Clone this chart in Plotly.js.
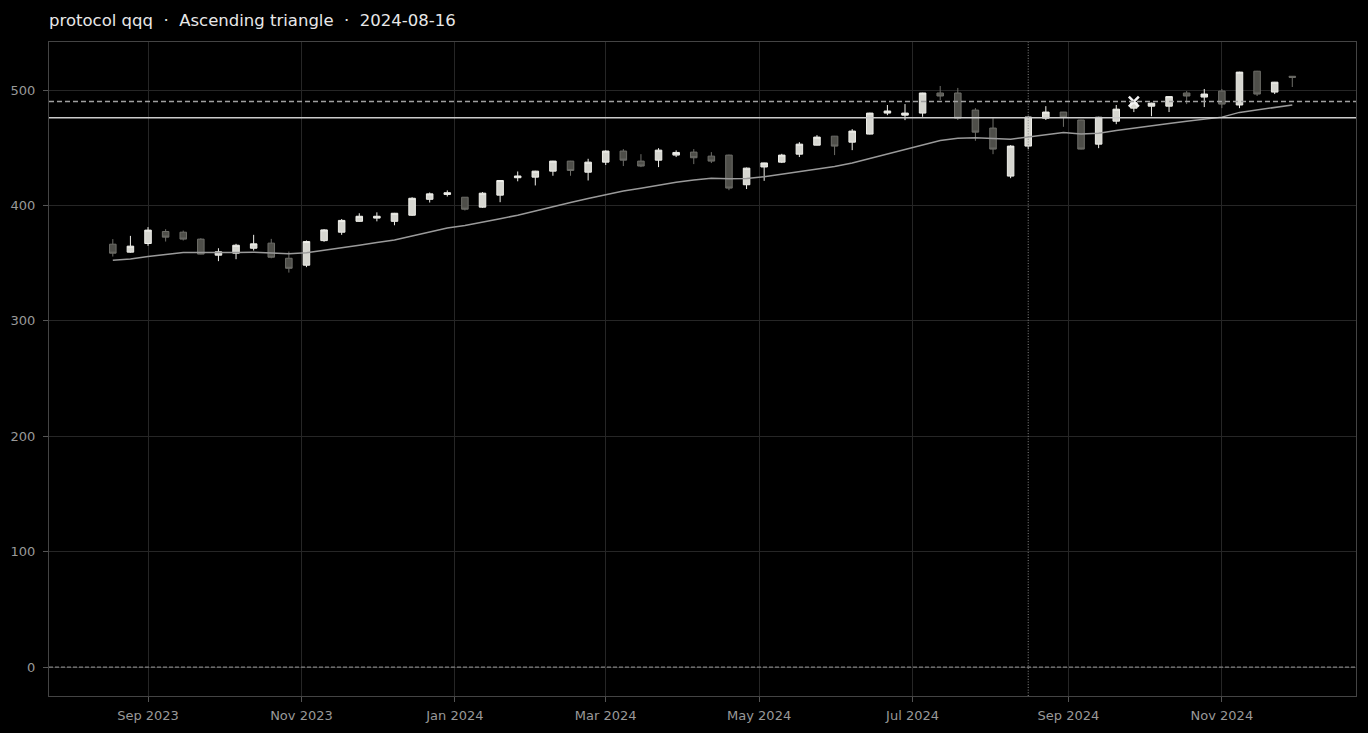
<!DOCTYPE html>
<html>
<head>
<meta charset="utf-8">
<script src="https://cdn.plot.ly/plotly-3.0.1.min.js"></script>
<style>
html,body{margin:0;padding:0;background:#000;}
#chart{width:1368px;height:733px;}
</style>
</head>
<body>
<div id="chart"></div>
<script>
const dates = [
"2023-08-18","2023-08-25","2023-09-01","2023-09-08","2023-09-15","2023-09-22","2023-09-29",
"2023-10-06","2023-10-13","2023-10-20","2023-10-27","2023-11-03","2023-11-10","2023-11-17",
"2023-11-24","2023-12-01","2023-12-08","2023-12-15","2023-12-22","2023-12-29",
"2024-01-05","2024-01-12","2024-01-19","2024-01-26","2024-02-02","2024-02-09","2024-02-16",
"2024-02-23","2024-03-01","2024-03-08","2024-03-15","2024-03-22","2024-03-29","2024-04-05",
"2024-04-12","2024-04-19","2024-04-26","2024-05-03","2024-05-10","2024-05-17","2024-05-24",
"2024-05-31","2024-06-07","2024-06-14","2024-06-21","2024-06-28","2024-07-05","2024-07-12",
"2024-07-19","2024-07-26","2024-08-02","2024-08-09","2024-08-16","2024-08-23","2024-08-30",
"2024-09-06","2024-09-13","2024-09-20","2024-09-27","2024-10-04","2024-10-11","2024-10-18",
"2024-10-25","2024-11-01","2024-11-08","2024-11-15","2024-11-22","2024-11-29"
];
const openVals = [
366.4,359.5,367.0,377.4,376.8,370.8,356.9,358.6,362.9,367.3,354.2,348.2,369.5,376.8,
386.2,389.0,386.2,391.5,405.3,409.5,407.1,398.5,408.9,424.0,424.5,429.7,438.4,428.8,
437.5,447.1,438.4,439.2,443.6,446.2,442.7,443.6,417.9,433.3,437.5,444.4,452.2,460.0,
454.8,461.8,480.0,478.2,480.0,497.4,497.4,482.6,467.0,425.4,451.4,475.6,480.9,474.0,
453.1,473.0,484.3,486.0,486.0,497.4,493.9,499.1,487.0,516.3,498.2,511.9
];
const highVals = [
370.8,373.6,381.2,379.4,378.2,371.6,362.9,366.7,374.5,371.0,360.0,369.6,379.5,388.2,
393.2,394.0,393.5,407.1,411.2,413.0,407.3,411.5,421.8,429.4,430.0,438.6,438.6,440.4,
447.7,448.8,444.4,449.6,447.7,448.8,446.2,444.0,432.8,437.0,444.7,454.8,460.9,460.2,
466.1,480.3,487.0,487.8,497.6,503.5,501.8,484.3,475.6,452.2,477.0,486.0,481.0,474.2,
476.8,487.0,490.0,489.0,494.5,499.1,500.9,500.9,515.8,516.6,507.0,512.0
];
const lowVals = [
355.7,359.0,365.0,368.7,369.6,357.6,351.7,353.4,360.9,354.2,341.8,346.5,368.5,374.5,
385.8,386.2,382.8,391.0,402.5,407.7,395.6,398.0,402.8,420.9,417.3,425.7,425.7,421.6,
435.0,434.1,433.2,433.2,441.9,435.8,436.7,413.2,414.2,421.3,436.7,441.9,452.0,443.6,
447.9,461.5,478.2,473.9,476.8,491.3,474.0,456.0,444.4,423.6,448.8,474.0,468.1,448.5,
449.6,470.4,480.9,477.3,480.9,487.8,485.2,484.3,484.3,494.8,496.5,502.6
];
const closeVals = [
358.6,364.7,378.6,372.5,370.8,357.8,359.8,365.5,366.7,355.1,345.5,368.7,378.8,387.0,
390.6,390.6,393.2,406.2,410.0,411.0,396.7,410.6,421.6,425.5,429.7,438.4,430.3,437.5,
447.1,439.2,434.1,447.9,445.9,441.3,438.4,415.0,432.3,436.8,443.6,453.1,459.2,451.4,
464.4,480.0,481.8,480.0,497.4,494.8,475.6,463.5,448.8,451.4,476.6,480.9,476.4,448.8,
476.4,483.4,489.0,488.6,494.3,494.8,496.5,487.8,515.5,496.5,506.8,511.0
];
const movingAvg = [
352.5,353.6,355.7,357.7,359.2,359.2,359.0,359.2,359.4,358.8,358.2,359.0,361.0,363.2,
365.5,367.8,370.0,373.5,377.3,380.5,382.5,385.2,388.5,391.5,395.3,399.0,402.5,406.0,
409.5,412.5,414.8,417.5,420.0,422.0,423.5,423.0,423.3,424.8,427.0,429.2,431.8,433.8,
436.8,440.8,444.5,448.3,452.5,456.3,458.2,458.6,458.0,457.4,459.3,461.2,463.2,461.8,
462.6,465.0,467.2,469.0,471.0,473.0,475.0,476.5,480.6,482.8,485.0,487.0
];
const resistanceLevel = [476];
const targetLevel = [490];
const baseLevel = [0];
const patternDate = ["2024-08-16"];
const breakoutDate = ["2024-09-27"];
const breakoutValue = [490];

const candles = {
  type: "candlestick",
  x: dates, open: openVals, high: highVals, low: lowVals, close: closeVals,
  increasing: {line: {color: "#efefea", width: 1}, fillcolor: "#d6d6d0"},
  decreasing: {line: {color: "#6e6e69", width: 1}, fillcolor: "#4e4e49"},
  whiskerwidth: 0,
  hoverinfo: "skip",
  showlegend: false
};
const ma = {
  type: "scatter", mode: "lines", x: dates, y: movingAvg,
  line: {color: "#9a9a9a", width: 1.5},
  hoverinfo: "skip", showlegend: false
};
const marker = {
  type: "scatter", mode: "markers", x: breakoutDate, y: breakoutValue,
  marker: {symbol: "x-thin-open", size: 10, color: "#f2f2f2", line: {color: "#f2f2f2", width: 2.5}},
  hoverinfo: "skip", showlegend: false
};

const tickFont = {size: 13, color: "#999", family: "DejaVu Sans, sans-serif"};
const layout = {
  width: 1368, height: 733,
  paper_bgcolor: "#000", plot_bgcolor: "#000",
  margin: {l: 49, r: 12, t: 42, b: 37, pad: 0},
  font: {family: "DejaVu Sans, sans-serif", color: "#999"},
  title: {
    text: "protocol qqq \u00a0·\u00a0 Ascending triangle \u00a0·\u00a0 2024-08-16",
    x: 0, xref: "paper", xanchor: "left",
    y: 1 - 20 / 733, yref: "container", yanchor: "middle",
    font: {family: "DejaVu Sans, sans-serif", size: 16.5, color: "#e8e8e8"}
  },
  boxgap: 0.47,
  xaxis: {
    type: "date",
    range: ["2023-07-23 15:00", "2024-12-24 08:00"],
    tickformat: "%b %Y", dtick: "M2", tick0: "2023-09-01",
    ticks: "outside", ticklen: 5, tickcolor: "#555", tickwidth: 1,
    ticklabelstandoff: 2,
    showgrid: true, gridcolor: "#262626", gridwidth: 1,
    showline: true, linecolor: "#444", linewidth: 1, mirror: true,
    zeroline: false,
    tickfont: tickFont,
    rangeslider: {visible: false},
    fixedrange: true
  },
  yaxis: {
    range: [-25.1, 541.6],
    dtick: 100, tick0: 0,
    ticks: "outside", ticklen: 5, tickcolor: "#555", tickwidth: 1,
    ticklabelstandoff: 5,
    showgrid: true, gridcolor: "#262626", gridwidth: 1,
    showline: true, linecolor: "#444", linewidth: 1, mirror: true,
    zeroline: false,
    tickfont: tickFont,
    fixedrange: true
  },
  shapes: [
    {type: "line", xref: "paper", x0: 0, x1: 1, yref: "y", y0: baseLevel[0], y1: baseLevel[0],
     line: {color: "#808080", width: 1.2, dash: "4px,2px"}, layer: "above"},
    {type: "line", xref: "paper", x0: 0, x1: 1, yref: "y", y0: resistanceLevel[0], y1: resistanceLevel[0],
     line: {color: "#cccccc", width: 1.6}, layer: "above"},
    {type: "line", xref: "paper", x0: 0, x1: 1, yref: "y", y0: targetLevel[0], y1: targetLevel[0],
     line: {color: "#a0a0a0", width: 1.5, dash: "5px,3px"}, layer: "above"},
    {type: "line", xref: "x", x0: patternDate[0], x1: patternDate[0], yref: "paper", y0: 0, y1: 1,
     line: {color: "#8a8a8a", width: 1, dash: "1px,1.7px"}, layer: "above"}
  ]
};

Plotly.newPlot("chart", [candles, ma, marker], layout, {displayModeBar: false, staticPlot: true});
</script>
</body>
</html>
